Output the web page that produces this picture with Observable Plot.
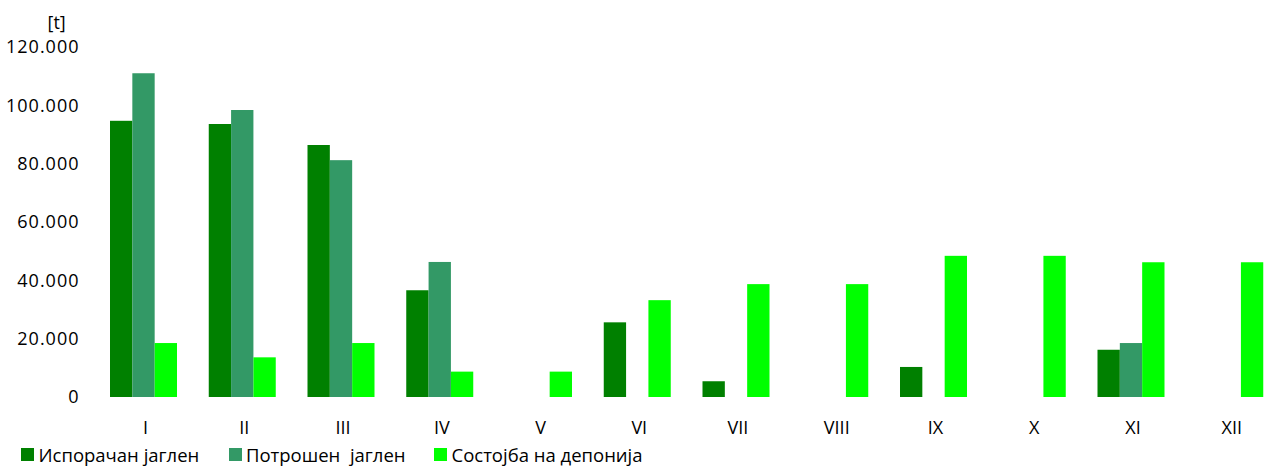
<!DOCTYPE html>
<html>
<head>
<meta charset="utf-8">
<script src="https://cdn.jsdelivr.net/npm/d3@7"></script>
<script src="https://cdn.jsdelivr.net/npm/@observablehq/plot@0.6"></script>
<style>
  html, body { margin: 0; padding: 0; background: #fff; }
  #legend { position: relative; height: 29px;
    font-family: "Open Sans", sans-serif; font-size: 18.5px; color: #000; white-space: pre; }
  .item { position: absolute; top: 0; height: 29px; display: flex; align-items: center; }
  .sw { width: 13px; height: 13px; margin-right: 4.5px; }
  g[aria-label="y-axis tick label"] text { letter-spacing: 1px; }
</style>
</head>
<body>
<div id="chart"></div>
<div id="legend"></div>
<script>
const months = ["I", "II", "III", "IV", "V", "VI", "VII", "VIII", "IX", "X", "XI", "XII"];
const seriesNames = ["Испорачан јаглен", "Потрошен  јаглен", "Состојба на депонија"];
const delivered = [94700, 93600, 86400, 36600, 0, 25600, 5400, 0, 10300, 0, 16200, 0];
const consumed  = [111000, 98400, 81200, 46300, 0, 0, 0, 0, 0, 0, 18500, 0];
const stock     = [18500, 13600, 18500, 8700, 8700, 33200, 38700, 38700, 48400, 48400, 46200, 46200];
const yTicks = [0, 20000, 40000, 60000, 80000, 100000, 120000];
const seriesColors = ["#008000", "#339966", "#00ff00"];
const unitLabel = "[t]";

const seriesValues = [delivered, consumed, stock];
const data = months.flatMap((m, i) =>
  seriesNames.map((s, j) => ({month: m, series: s, value: seriesValues[j][i]})));

const fmt = d3.formatLocale({decimal: ",", thousands: ".", grouping: [3], currency: ["", ""]}).format(",d");

const plot = Plot.plot({
  width: 1266,
  height: 440,
  marginLeft: 95,
  marginRight: 0,
  marginTop: 47,
  marginBottom: 43,
  style: {fontFamily: '"Open Sans", sans-serif', fontSize: "18px", color: "#000", background: "#fff"},
  fx: {domain: months, range: [110, 1263.25], paddingInner: 0.3215, paddingOuter: 0, round: false, label: null},
  x: {domain: seriesNames, padding: 0, round: false, axis: null},
  y: {domain: [0, 120000], axis: null},
  color: {domain: seriesNames, range: seriesColors},
  marks: [
    Plot.barY(data, {fx: "month", x: "series", y: "value", fill: "series"}),
    Plot.axisFx({anchor: "bottom", tickSize: 0, tickPadding: 24, dx: 1.5, label: null, fontSize: 18}),
    Plot.axisY({ticks: yTicks, tickFormat: fmt, tickSize: 0, tickPadding: 31, label: null, fontSize: 18}),
    Plot.text([unitLabel], {facet: "super", frameAnchor: "top-left", textAnchor: "start",
      lineAnchor: "bottom", dx: -63, dy: -19, fontSize: 18})
  ]
});
document.getElementById("chart").appendChild(plot);

const legendLefts = [21, 228.5, 434];
const legend = d3.select("#legend");
seriesNames.forEach((s, i) => {
  const it = legend.append("div").attr("class", "item").style("left", legendLefts[i] + "px");
  it.append("div").attr("class", "sw").style("background", seriesColors[i]);
  it.append("span").text(s);
});
</script>
</body>
</html>
